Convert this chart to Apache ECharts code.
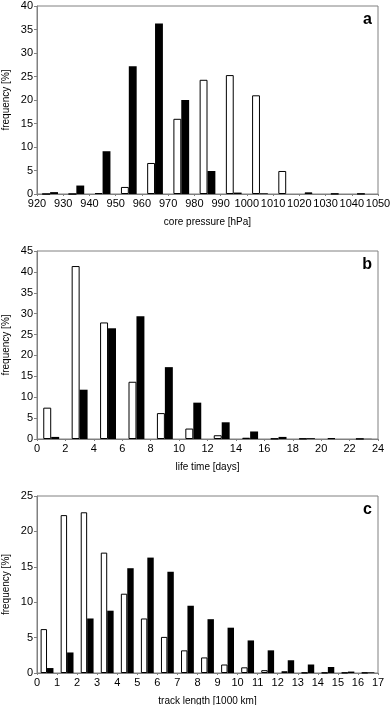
<!DOCTYPE html>
<html>
<head>
<meta charset="utf-8">
<script src="https://cdn.jsdelivr.net/npm/echarts@6/dist/echarts.min.js"></script>
<style>
  html, body { margin: 0; padding: 0; background: #fff; }
  #main { width: 390px; height: 705px; }
</style>
</head>
<body>
<div id="main"></div>
<script>
// panel a: core pressure bins (hPa), 10 hPa wide
var pressureBins = [920, 930, 940, 950, 960, 970, 980, 990, 1000, 1010, 1020, 1030, 1040];
var pressureWhite = [0, 0, 0.2, 1.5, 6.6, 16.0, 24.3, 25.3, 21.0, 4.9, 0.35, 0.05, 0.05];
var pressureBlack = [0.4, 1.8, 9.1, 27.2, 36.3, 20.0, 4.9, 0.3, 0.15, 0, 0, 0, 0];

// panel b: life time bins (days), 2 days wide
var lifeBins = [0, 2, 4, 6, 8, 10, 12, 14, 16, 18, 20, 22];
var lifeWhite = [7.5, 41.4, 27.9, 13.7, 6.2, 2.5, 0.9, 0.3, 0.1, 0.1, 0.2, 0.05];
var lifeBlack = [0.5, 11.8, 26.5, 29.4, 17.2, 8.7, 4.0, 1.8, 0.5, 0.2, 0, 0.05];

// panel c: track length bins (1000 km)
var trackBins = [0, 1, 2, 3, 4, 5, 6, 7, 8, 9, 10, 11, 12, 13, 14, 15, 16];
var trackWhite = [6.2, 22.3, 22.7, 17.0, 11.2, 7.7, 5.1, 3.2, 2.2, 1.2, 0.8, 0.4, 0.25, 0.05, 0.05, 0.05, 0.05];
var trackBlack = [0.7, 2.9, 7.7, 8.8, 14.8, 16.3, 14.3, 9.5, 7.6, 6.4, 4.6, 3.2, 1.8, 1.2, 0.85, 0.2, 0.1];

var axisGrey = '#808080';
var fontName = 'Liberation Sans';

var chart = echarts.init(document.getElementById('main'), null, { renderer: 'canvas' });

var panels = [
  { bins: pressureBins, white: pressureWhite, black: pressureBlack, min: 920, max: 1050, step: 10,
    ymax: 40, name: 'core pressure [hPa]', letter: 'a', top: 6, height: 188, barW: '30%' },
  { bins: lifeBins, white: lifeWhite, black: lifeBlack, min: 0, max: 24, step: 2,
    ymax: 45, name: 'life time [days]', letter: 'b', top: 251, height: 188, barW: '28%' },
  { bins: trackBins, white: trackWhite, black: trackBlack, min: 0, max: 17, step: 1,
    ymax: 25, name: 'track length [1000 km]', letter: 'c', top: 496, height: 177, barW: '32%' }
];

var grid = [], xAxis = [], yAxis = [], series = [], graphic = [];

panels.forEach(function (p, i) {
  grid.push({
    left: 37, right: 12, top: p.top, height: p.height,
    outerBoundsMode: 'none', containLabel: false,
    show: true, borderColor: axisGrey, borderWidth: 1, backgroundColor: 'transparent'
  });
  // visible value axis, labels sit on the bin edges
  xAxis.push({
    type: 'value', gridIndex: i, min: p.min, max: p.max, interval: p.step,
    name: p.name, nameLocation: 'middle', nameGap: 23, nameMoveOverlap: false,
    nameTextStyle: { fontFamily: fontName, fontSize: 10, color: '#000' },
    axisLine: { show: true, lineStyle: { color: axisGrey } },
    axisTick: { show: true, length: 2, lineStyle: { color: axisGrey } },
    axisLabel: {
      fontFamily: fontName, fontSize: 11, color: '#000', margin: 4,
      formatter: function (v) { return String(v); }
    },
    splitLine: { show: false }
  });
  // hidden category axis that carries the bars
  xAxis.push({
    type: 'category', gridIndex: i, data: p.bins, show: false, boundaryGap: true
  });
  yAxis.push({
    type: 'value', gridIndex: i, min: 0, max: p.ymax, interval: 5,
    name: 'frequency [%]', nameLocation: 'middle', nameGap: 26, nameMoveOverlap: false,
    nameTextStyle: { fontFamily: fontName, fontSize: 10, color: '#000' },
    axisLine: { show: true, lineStyle: { color: axisGrey } },
    axisTick: { show: true, length: 3, lineStyle: { color: axisGrey } },
    axisLabel: { fontFamily: fontName, fontSize: 11, color: '#000', margin: 4 },
    splitLine: { show: false }
  });
  series.push({
    type: 'bar', xAxisIndex: i * 2 + 1, yAxisIndex: i, data: p.white,
    barWidth: p.barW, barGap: '0%', silent: true,
    itemStyle: { color: '#fff', borderColor: '#000', borderWidth: 1 }
  });
  series.push({
    type: 'bar', xAxisIndex: i * 2 + 1, yAxisIndex: i, data: p.black,
    barWidth: p.barW, barGap: '0%', silent: true,
    itemStyle: { color: '#000' }
  });
  graphic.push({
    type: 'text', right: 18, top: p.top + 6,
    style: { text: p.letter, font: 'bold 16px ' + fontName, fill: '#000' }
  });
});

chart.setOption({
  animation: false,
  grid: grid,
  xAxis: xAxis,
  yAxis: yAxis,
  series: series,
  graphic: graphic
});
</script>
</body>
</html>
